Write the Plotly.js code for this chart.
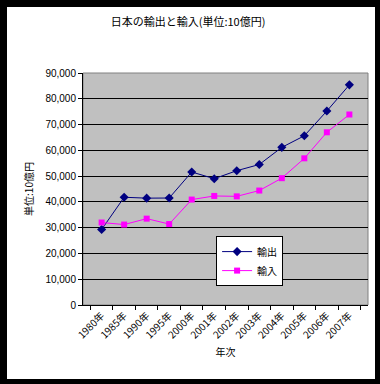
<!DOCTYPE html>
<html><head><meta charset="utf-8">
<script src="https://cdn.plot.ly/plotly-3.0.1.min.js"></script>
<style>
html,body{margin:0;padding:0;background:#000;width:380px;height:384px;overflow:hidden;}
#chart{position:absolute;left:7px;top:7px;width:368px;height:372px;background:#fff;}
</style></head>
<body><div id="chart"></div>
<script>
const categories = ["1980年","1985年","1990年","1995年","2000年","2001年","2002年","2003年","2004年","2005年","2006年","2007年"];
const exportsVals = [29300, 41800, 41450, 41500, 51600, 49000, 52100, 54500, 61150, 65650, 75250, 85400];
const importsVals = [32000, 31200, 33500, 31400, 40900, 42300, 42150, 44400, 49200, 56900, 67000, 73900];
const yTicks = [0,10000,20000,30000,40000,50000,60000,70000,80000,90000];
const yTickText = ["0","10,000","20,000","30,000","40,000","50,000","60,000","70,000","80,000","90,000"];

const jp = '"Noto Sans CJK JP", sans-serif';
const num = '"Liberation Sans", Arial, sans-serif';

const traces = [
  {x: categories, y: exportsVals, name: "輸出", type: "scatter", mode: "lines+markers",
   line: {color: "#000080", width: 1}, marker: {symbol: "diamond", size: 7, color: "#000080"}},
  {x: categories, y: importsVals, name: "輸入", type: "scatter", mode: "lines+markers",
   line: {color: "#FF00FF", width: 1}, marker: {symbol: "square", size: 6, color: "#FF00FF"}}
];

const layout = {
  width: 368, height: 372,
  margin: {l: 76, r: 7, t: 66, b: 74, pad: 0},
  paper_bgcolor: "#ffffff",
  plot_bgcolor: "#C0C0C0",
  showlegend: true,
  title: {text: "日本の輸出と輸入(単位:10億円)", font: {family: jp, size: 11, color: "#000"},
          xref: "container", yref: "container", x: 0.492, y: 0.96, xanchor: "center", yanchor: "middle"},
  xaxis: {
    type: "category", tickson: "boundaries", ticks: "outside", ticklen: 4, tickcolor: "#000",
    tickangle: -45, tickfont: {family: jp, size: 10, color: "#000"},
    showline: true, linecolor: "#000", linewidth: 1, mirror: false, showgrid: false,
    title: {text: "年次", font: {family: jp, size: 10, color: "#000"}, standoff: 8},
    automargin: false, fixedrange: true
  },
  yaxis: {
    range: [0, 90000], tickvals: yTicks, ticktext: yTickText,
    ticks: "outside", ticklen: 4, tickcolor: "#000",
    tickfont: {family: num, size: 10, color: "#000"},
    showline: true, linecolor: "#000", linewidth: 1,
    showgrid: true, gridcolor: "#000", gridwidth: 1, zeroline: false,
    title: {text: "単位:10億円", font: {family: jp, size: 10, color: "#000"}, standoff: 9},
    automargin: false, fixedrange: true
  },
  legend: {x: 0.467, y: 0.297, xanchor: "left", yanchor: "top",
           bgcolor: "#ffffff", bordercolor: "#000", borderwidth: 1,
           font: {family: jp, size: 10, color: "#000"}, itemwidth: 30, tracegroupgap: 0},
  shapes: [
    {type: "rect", xref: "paper", yref: "paper", x0: 0, x1: 1, y0: 0, y1: 1,
     line: {color: "#808080", width: 1}, fillcolor: "rgba(0,0,0,0)", layer: "below"}
  ]
};

Plotly.newPlot("chart", traces, layout, {displayModeBar: false, staticPlot: true});
</script></body></html>
